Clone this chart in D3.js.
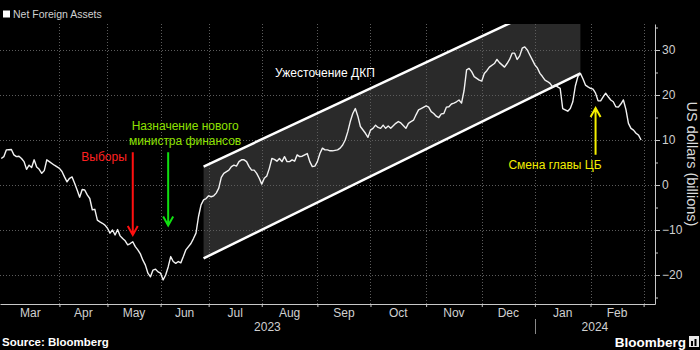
<!DOCTYPE html>
<html>
<head>
<meta charset="utf-8">
<script src="https://cdn.jsdelivr.net/npm/d3@7"></script>
<style>
  body { margin: 0; background: #000; }
  svg { display: block; font-family: "Liberation Sans", Arial, sans-serif; }
</style>
</head>
<body>
<svg id="chart" width="700" height="350"></svg>
<script>
// net foreign assets, bn USD (trading days only)
var nfa = [
  ["2023-03-01",5.9],["2023-03-02",6.3],["2023-03-03",7.8],["2023-03-07",7.9],["2023-03-08",6.7],["2023-03-09",6.3],
  ["2023-03-10",6.4],["2023-03-13",5.9],["2023-03-14",5.2],["2023-03-15",3.5],["2023-03-16",4.4],["2023-03-17",3.9],
  ["2023-03-20",5.6],["2023-03-21",4.0],["2023-03-22",3.5],["2023-03-23",2.6],["2023-03-24",3.2],["2023-03-27",5.6],
  ["2023-03-28",5.2],["2023-03-30",4.4],["2023-04-03",3.7],["2023-04-04",3.0],["2023-04-05",1.8],["2023-04-06",0.7],
  ["2023-04-07",1.5],["2023-04-10",1.8],["2023-04-11",0.4],["2023-04-12",-1.1],["2023-04-13",-2.7],["2023-04-14",-1.0],
  ["2023-04-17",-1.1],["2023-04-18",-2.2],["2023-04-19",-3.0],["2023-04-20",-5.5],["2023-04-24",-5.4],["2023-04-25",-7.8],
  ["2023-04-26",-8.2],["2023-04-27",-8.5],["2023-04-28",-8.9],["2023-05-02",-9.6],["2023-05-03",-10.7],["2023-05-04",-10.0],
  ["2023-05-05",-11.1],["2023-05-08",-9.9],["2023-05-09",-11.3],["2023-05-10",-11.9],["2023-05-11",-12.4],["2023-05-12",-13.3],
  ["2023-05-15",-13.0],["2023-05-16",-12.6],["2023-05-17",-13.7],["2023-05-18",-14.4],["2023-05-22",-15.3],["2023-05-23",-16.7],
  ["2023-05-24",-17.8],["2023-05-25",-19.6],["2023-05-26",-20.4],["2023-05-29",-18.9],["2023-05-30",-18.7],["2023-05-31",-19.3],
  ["2023-06-01",-19.6],["2023-06-02",-21.1],["2023-06-05",-20.0],["2023-06-06",-18.2],["2023-06-07",-15.9],["2023-06-08",-17.0],
  ["2023-06-09",-17.4],["2023-06-12",-17.0],["2023-06-13",-17.3],["2023-06-14",-15.9],["2023-06-15",-14.4],["2023-06-19",-13.0],
  ["2023-06-20",-11.9],["2023-06-21",-10.7],["2023-06-22",-7.0],["2023-06-23",-4.4],["2023-06-26",-3.3],["2023-06-27",-3.0],
  ["2023-07-03",-2.4],["2023-07-04",-2.6],["2023-07-05",-2.4],["2023-07-06",-1.8],["2023-07-07",-0.7],["2023-07-10",1.7],
  ["2023-07-11",2.6],["2023-07-13",3.3],["2023-07-14",4.1],["2023-07-17",4.4],["2023-07-18",4.2],["2023-07-19",5.2],
  ["2023-07-20",5.6],["2023-07-21",5.6],["2023-07-24",5.2],["2023-07-25",4.1],["2023-07-26",3.3],["2023-07-27",3.3],
  ["2023-07-28",2.6],["2023-07-31",1.5],["2023-08-01",0.2],["2023-08-02",1.5],["2023-08-03",2.0],["2023-08-04",3.7],
  ["2023-08-07",5.9],["2023-08-08",5.7],["2023-08-09",5.3],["2023-08-10",5.9],["2023-08-11",5.2],["2023-08-14",6.3],
  ["2023-08-15",5.2],["2023-08-16",5.2],["2023-08-17",5.6],["2023-08-18",5.3],["2023-08-21",6.7],["2023-08-22",6.3],
  ["2023-08-23",6.4],["2023-08-24",6.7],["2023-08-25",7.0],["2023-08-28",5.2],["2023-08-29",4.1],["2023-08-31",4.2],
  ["2023-09-01",5.2],["2023-09-04",7.0],["2023-09-05",8.2],["2023-09-06",7.8],["2023-09-07",7.8],["2023-09-08",7.6],
  ["2023-09-11",7.6],["2023-09-13",7.8],["2023-09-14",8.2],["2023-09-15",8.9],["2023-09-18",10.0],["2023-09-19",11.8],
  ["2023-09-20",14.1],["2023-09-21",15.9],["2023-09-22",17.0],["2023-09-25",15.3],["2023-09-26",13.0],["2023-09-28",11.5],
  ["2023-09-29",10.6],["2023-10-02",12.2],["2023-10-03",12.6],["2023-10-04",13.3],["2023-10-05",12.8],["2023-10-06",12.6],
  ["2023-10-09",13.3],["2023-10-10",12.6],["2023-10-11",13.1],["2023-10-12",12.6],["2023-10-16",13.7],["2023-10-17",14.1],
  ["2023-10-18",13.8],["2023-10-20",12.6],["2023-10-23",13.7],["2023-10-24",14.1],["2023-10-25",14.4],["2023-10-26",15.6],
  ["2023-10-27",16.7],["2023-10-30",17.0],["2023-11-01",17.6],["2023-11-02",17.3],["2023-11-03",16.3],["2023-11-06",15.9],
  ["2023-11-07",15.3],["2023-11-08",15.0],["2023-11-09",15.8],["2023-11-10",15.9],["2023-11-13",17.3],["2023-11-14",17.4],
  ["2023-11-15",18.0],["2023-11-16",18.2],["2023-11-17",18.5],["2023-11-20",18.9],["2023-11-21",18.2],["2023-11-22",21.0],
  ["2023-11-23",25.6],["2023-11-24",25.9],["2023-11-27",25.2],["2023-11-28",24.1],["2023-11-30",23.3],["2023-12-01",23.1],
  ["2023-12-04",24.8],["2023-12-05",25.4],["2023-12-06",26.2],["2023-12-08",27.0],["2023-12-11",27.9],["2023-12-12",27.2],
  ["2023-12-13",26.7],["2023-12-14",26.2],["2023-12-15",27.0],["2023-12-18",27.9],["2023-12-19",29.3],["2023-12-20",29.3],
  ["2023-12-21",27.9],["2023-12-22",28.7],["2023-12-25",30.4],["2023-12-26",30.7],["2023-12-27",30.0],["2023-12-28",28.9],
  ["2023-12-29",27.8],["2024-01-02",26.7],["2024-01-03",26.0],["2024-01-04",24.8],["2024-01-05",24.1],["2024-01-08",23.3],
  ["2024-01-09",23.0],["2024-01-10",22.6],["2024-01-11",21.8],["2024-01-12",22.2],["2024-01-15",21.8],["2024-01-16",21.5],
  ["2024-01-17",17.0],["2024-01-18",16.7],["2024-01-19",16.4],["2024-01-22",17.0],["2024-01-23",18.5],["2024-01-24",22.0],
  ["2024-01-25",24.1],["2024-01-26",24.8],["2024-01-29",23.6],["2024-01-30",22.2],["2024-01-31",21.8],["2024-02-01",21.5],
  ["2024-02-02",21.3],["2024-02-05",20.4],["2024-02-06",18.7],["2024-02-07",18.7],["2024-02-08",19.6],["2024-02-09",20.4],
  ["2024-02-12",19.6],["2024-02-13",18.9],["2024-02-14",18.5],["2024-02-15",17.4],["2024-02-16",17.3],["2024-02-19",18.0],
  ["2024-02-20",18.9],["2024-02-21",16.8],["2024-02-22",13.7],["2024-02-23",12.6],["2024-02-26",12.2],["2024-02-27",11.5],
  ["2024-02-28",11.1],["2024-02-29",10.0]
];

// market closed on these weekdays, the x axis skips them
var holidays = ["2023-04-21","2023-05-01","2023-05-19","2023-06-28","2023-06-29","2023-06-30","2023-08-30","2024-01-01"];

var months = ["Mar","Apr","May","Jun","Jul","Aug","Sep","Oct","Nov","Dec","Jan","Feb"];
var years = ["2023","2024"];
var yTicks = [-20,-10,0,10,20,30];
var yMinor = [-25,-15,-5,5,15,25,35];

// trend channel
var channelDates = ["2023-06-26","2024-01-26"];
var channelUpper = [4.1, 43.3];
var channelLower = [-16.3, 24.8];

var notes = [
  {text:"Выборы", date:"2023-05-16", value:6.2, color:"#ff2020", anchor:"end", dx:-6},
  {text:"Назначение нового", date:"2023-06-06", value:13.1, color:"#8ee000", anchor:"middle", dx:17},
  {text:"министра финансов", date:"2023-06-06", value:9.8, color:"#8ee000", anchor:"middle", dx:17},
  {text:"Ужесточение ДКП", date:"2023-09-06", value:24.9, color:"#ffffff", anchor:"middle", dx:0},
  {text:"Смена главы ЦБ", date:"2024-02-05", value:4.4, color:"#f2ee00", anchor:"end", dx:6}
];
var arrows = [
  {date:"2023-05-16", from:7.3, to:-11.1, color:"#ff1010"},
  {date:"2023-06-06", from:7.3, to:-9.0, color:"#10e010"},
  {date:"2024-02-05", from:6.7, to:17.1, color:"#f5f000"}
];

// plot box (window.top is read-only, so no bare "top")
var W = 700, H = 350,
  plotL = 0, plotR = 655, plotT = 24, plotB = 304

var fmt = d3.timeFormat("%Y-%m-%d")

var days = d3.timeDay.range(new Date(2023, 2, 1), new Date(2024, 2, 8)).filter(function (d) {
  var w = d.getDay();
  return w !== 0 && w !== 6 && holidays.indexOf(fmt(d)) < 0;
});
var dayIndex = new Map(days.map(function (d, i) { return [fmt(d), i]; }));
function ix(s) { return dayIndex.get(s); }

var x = d3.scaleLinear().domain([-0.5, days.length - 0.5]).range([plotL, plotR]);
var y = d3.scaleLinear().domain([-26.44, 35.78]).range([plotB, plotT]);

// first trading day of every month, Mar 2023 .. Mar 2024
var monthStarts = d3.timeMonth.range(new Date(2023, 2, 1), new Date(2024, 3, 1)).map(function (m) {
  return d3.bisector(function (d) { return d; }).left(days, m);
});

var svg = d3.select("#chart");
svg.append("rect").attr("width", W).attr("height", H).attr("fill", "#000");

svg.append("clipPath").attr("id", "plot")
  .append("rect").attr("x", plotL).attr("y", plotT).attr("width", plotR - plotL).attr("height", plotB - plotT);

// channel fill
var channel = channelDates.map(function (d, i) {
  return { date: d, hi: channelUpper[i], lo: channelLower[i] };
});
svg.append("path")
  .datum(channel)
  .attr("clip-path", "url(#plot)")
  .attr("fill", "#2a2a2a")
  .attr("d", d3.area()
    .x(function (d) { return x(ix(d.date)); })
    .y0(function (d) { return y(d.lo); })
    .y1(function (d) { return y(d.hi); }));

// grid
var grid = svg.append("g").attr("stroke", "#5c5c5c").attr("stroke-dasharray", "1,2").attr("stroke-width", 1);
grid.selectAll(".h").data(yTicks).enter().append("line")
  .attr("x1", plotL).attr("x2", plotR)
  .attr("y1", function (d) { return Math.round(y(d)) + 0.5; })
  .attr("y2", function (d) { return Math.round(y(d)) + 0.5; });
grid.selectAll(".v").data(monthStarts.slice(1)).enter().append("line")
  .attr("y1", plotT).attr("y2", plotB)
  .attr("x1", function (d) { return Math.round(x(d)) + 0.5; })
  .attr("x2", function (d) { return Math.round(x(d)) + 0.5; });

// channel borders
["hi", "lo"].forEach(function (k) {
  svg.append("path")
    .datum(channel)
    .attr("clip-path", "url(#plot)")
    .attr("fill", "none")
    .attr("stroke", "#fff")
    .attr("stroke-width", 2.5)
    .attr("d", d3.line()
      .x(function (d) { return x(ix(d.date)); })
      .y(function (d) { return y(d[k]); }));
});

// series
svg.append("path")
  .datum(nfa)
  .attr("fill", "none")
  .attr("stroke", "#f2f2f2")
  .attr("stroke-width", 1.4)
  .attr("stroke-linejoin", "round")
  .attr("d", d3.line()
    .x(function (d) { return x(ix(d[0])); })
    .y(function (d) { return y(d[1]); }));

// axes
var yAxis = svg.append("g")
  .attr("transform", "translate(" + plotR + ",0)")
  .call(d3.axisRight(y).tickValues(yTicks).tickSize(5).tickSizeOuter(0).tickPadding(2));
svg.append("g")
  .attr("transform", "translate(" + plotR + ",0)")
  .call(d3.axisRight(y).tickValues(yMinor).tickSize(3).tickSizeOuter(0).tickFormat(""))
  .select(".domain").remove();
svg.append("g")
  .attr("transform", "translate(0," + plotB + ")")
  .call(d3.axisBottom(x).tickValues(monthStarts.slice(1)).tickSize(3).tickSizeOuter(0).tickFormat(""));

svg.selectAll(".domain, .tick line").attr("stroke", "#c8c8c8");
yAxis.selectAll("text").attr("fill", "#d0d0d0").attr("font-size", 12).attr("font-family", "Liberation Sans, Arial, sans-serif");

svg.append("g").selectAll("text").data(months).enter().append("text")
  .attr("x", function (d, i) { return (x(monthStarts[i]) + x(monthStarts[i + 1])) / 2; })
  .attr("y", 317)
  .attr("text-anchor", "middle")
  .attr("font-size", 12)
  .attr("fill", "#d0d0d0")
  .text(function (d) { return d; });

var jan = monthStarts[10];
var yearSpans = [[x.range()[0], x(jan)], [x(jan), x.range()[1]]];
svg.append("g").selectAll("text").data(years).enter().append("text")
  .attr("x", function (d, i) { return (yearSpans[i][0] + yearSpans[i][1]) / 2; })
  .attr("y", 331)
  .attr("text-anchor", "middle")
  .attr("font-size", 12)
  .attr("fill", "#d0d0d0")
  .text(function (d) { return d; });
svg.append("line")
  .attr("x1", Math.round(x(jan)) + 0.5).attr("x2", Math.round(x(jan)) + 0.5)
  .attr("y1", 319).attr("y2", 334)
  .attr("stroke", "#888");

svg.append("text")
  .attr("transform", "translate(687," + (plotT + plotB) / 2 + ") rotate(90)")
  .attr("text-anchor", "middle")
  .attr("font-size", 14.5)
  .attr("fill", "#dcdcdc")
  .text("US dollars (billions)");

// annotations
svg.append("g").selectAll("text").data(notes).enter().append("text")
  .attr("x", function (d) { return x(ix(d.date)) + d.dx; })
  .attr("y", function (d) { return y(d.value); })
  .attr("dy", "0.35em")
  .attr("text-anchor", function (d) { return d.anchor; })
  .attr("font-size", 12)
  .attr("fill", function (d) { return d.color; })
  .text(function (d) { return d.text; });

arrows.forEach(function (a) {
  var ax = x(ix(a.date)), y0 = y(a.from), y1 = y(a.to),
    dir = y1 > y0 ? -1 : 1;
  svg.append("path")
    .attr("d", "M" + ax + "," + y0 + "V" + y1 +
      "M" + (ax - 5) + "," + (y1 + dir * 9) + "L" + ax + "," + y1 + "L" + (ax + 5) + "," + (y1 + dir * 9))
    .attr("fill", "none")
    .attr("stroke", a.color)
    .attr("stroke-width", 2);
});

// legend
svg.append("rect").attr("x", 3).attr("y", 10.5).attr("width", 7).attr("height", 7).attr("fill", "#fff");
svg.append("text").attr("x", 13).attr("y", 18).attr("font-size", 10.5).attr("fill", "#d0d0d0").text("Net Foreign Assets");

// footer
svg.append("text").attr("x", 2).attr("y", 346).attr("font-size", 11.5).attr("font-weight", "bold")
  .attr("fill", "#fff").text("Source: Bloomberg");
svg.append("text").attr("x", 686).attr("y", 347).attr("text-anchor", "end").attr("font-size", 13.5)
  .attr("font-weight", "bold").attr("fill", "#fff").text("Bloomberg");
svg.append("rect").attr("x", 689).attr("y", 336).attr("width", 10).attr("height", 11).attr("fill", "#e8e8e8");
svg.append("rect").attr("x", 691).attr("y", 341).attr("width", 2).attr("height", 5).attr("fill", "#000");
svg.append("rect").attr("x", 694.5).attr("y", 339).attr("width", 2).attr("height", 7).attr("fill", "#000");
</script>
</body>
</html>
